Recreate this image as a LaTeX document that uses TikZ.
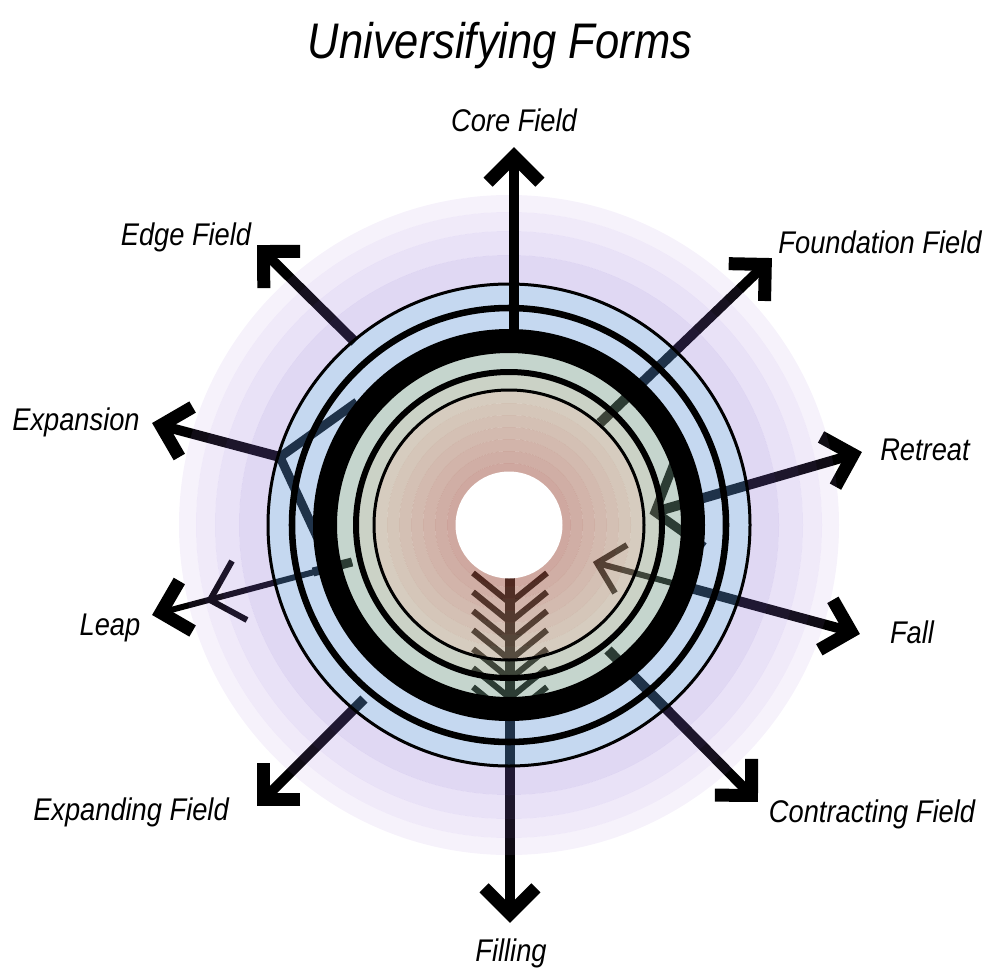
\documentclass[tikz,border=0pt]{standalone}
\usepackage{fontspec}
\newfontfamily\narrowsans[FakeStretch=0.87]{Liberation Sans}
\usetikzlibrary{arrows.meta}

% translucent zone tints (laid over the connectors)
\definecolor{lavA}{RGB}{165,125,215}
\definecolor{lavB}{RGB}{155,115,215}
\definecolor{lavC}{RGB}{145,110,215}
\definecolor{lavD}{RGB}{131,99,207}
\definecolor{skyE}{RGB}{89,144,212}
\definecolor{sageF}{RGB}{110,150,130}
\definecolor{sageG}{RGB}{139,155,129}
\definecolor{clayA}{RGB}{173,153,127}
\definecolor{clayB}{RGB}{171,141,115}
\definecolor{clayC}{RGB}{169,129,105}
\definecolor{clayD}{RGB}{167,117,95}
\definecolor{clayE}{RGB}{165,105,85}
\definecolor{clayF}{RGB}{161,93,75}
\definecolor{clayG}{RGB}{159,81,65}

\begin{document}
\begin{tikzpicture}[x=0.75pt,y=-0.75pt,
  arrowshaft/.style={line width=7.5pt, line cap=butt},
  thinshaft/.style={line width=4.5pt, line cap=butt},
  bigtip/.style={-{Straight Barb[length=19.4pt,width=38.8pt,line width=9.75pt]}},
  heavybarb/.style={line width=6.75pt, line join=miter, line cap=butt},
  finebarb/.style={line width=4.5pt, line join=miter, line cap=butt},
  zonefill/.style={even odd rule, fill opacity=#1},
  labeltext/.style={font=\narrowsans\itshape\fontsize{23.5}{28}\selectfont, inner sep=0pt, anchor=base},
  titletext/.style={font=\narrowsans\itshape\fontsize{37.5}{44}\selectfont, inner sep=0pt, anchor=base},
]
\useasboundingbox (0,0) rectangle (986,978);

% ---------- end points of the radiating connectors ----------
\coordinate (O) at (509,525);
\coordinate (coreS) at (514,332);   \coordinate (coreT) at (514,147);
\coordinate (edgeS) at (355,342);   \coordinate (edgeT) at (257,245);
\coordinate (foundS) at (600,423);  \coordinate (foundT) at (772,258);
\coordinate (retrS) at (655,512);   \coordinate (retrT) at (862,452);
\coordinate (fallS) at (597,563);   \coordinate (fallM) at (672,583);
\coordinate (fallT) at (860,634);
\coordinate (contrS) at (608,650);  \coordinate (contrT) at (758,802);
\coordinate (fillS) at (510,575);   \coordinate (fillT) at (510,923);
\coordinate (expdS) at (364,699);   \coordinate (expdT) at (257,806);
\coordinate (leapS) at (352,562);   \coordinate (leapM) at (313,572);
\coordinate (leapT) at (152,615);
\coordinate (expnS) at (280,457);   \coordinate (expnT) at (152,423);

% ---------- connectors (tinted afterwards by the zones) ----------
\draw[arrowshaft, bigtip] (edgeS) -- (edgeT);
\draw[arrowshaft, bigtip] (foundS) -- (foundT);
\draw[arrowshaft, bigtip] (retrS) -- (retrT);
\draw[heavybarb] (677,456) -- (retrS) -- (704,547);
\draw[thinshaft] (fallS) -- (fallM);
\draw[arrowshaft, bigtip] (fallM) -- (fallT);
\draw[finebarb] (627,545) -- (fallS) -- (615,593);
\draw[arrowshaft, bigtip] (contrS) -- (contrT);
\draw[arrowshaft, bigtip] (fillS) -- (fillT);
\foreach \k in {0,...,6}
  \draw[finebarb] (473,573+19*\k) -- (510,603+19*\k) -- (547,573+19*\k);
\draw[arrowshaft, bigtip] (expdS) -- (expdT);
\draw[heavybarb] (leapS) -- (leapM);
\draw[thinshaft, bigtip] (leapS) -- (leapT);
\draw[finebarb] (232,561) -- (210,600) -- (247,620);
\draw[arrowshaft, bigtip] (expnS) -- (expnT);
\draw[heavybarb] (357,402) -- (expnS) -- (320,543);

% ---------- concentric tinted zones ----------
\begin{scope}[shift={(O)}]
  \fill[lavA, zonefill=0.10] (0,0) circle[radius=330] (0,0) circle[radius=313];
  \fill[lavB, zonefill=0.15] (0,0) circle[radius=313] (0,0) circle[radius=294];
  \fill[lavC, zonefill=0.20] (0,0) circle[radius=294] (0,0) circle[radius=270];
  \fill[lavD, zonefill=0.25] (0,0) circle[radius=270] (0,0) circle[radius=241];
  \fill[skyE, zonefill=0.35] (0,0) circle[radius=241] (0,0) circle[radius=194];
  \fill[sageF, zonefill=0.40] (0,0) circle[radius=194] (0,0) circle[radius=153];
  \fill[sageG, zonefill=0.45] (0,0) circle[radius=153] (0,0) circle[radius=135];
  \fill[clayA, zonefill=0.50] (0,0) circle[radius=135] (0,0) circle[radius=122];
  \fill[clayB, zonefill=0.50] (0,0) circle[radius=122] (0,0) circle[radius=110];
  \fill[clayC, zonefill=0.50] (0,0) circle[radius=110] (0,0) circle[radius=98];
  \fill[clayD, zonefill=0.50] (0,0) circle[radius=98] (0,0) circle[radius=86];
  \fill[clayE, zonefill=0.50] (0,0) circle[radius=86] (0,0) circle[radius=74];
  \fill[clayF, zonefill=0.50] (0,0) circle[radius=74] (0,0) circle[radius=62];
  \fill[clayG, zonefill=0.50] (0,0) circle[radius=62] (0,0) circle[radius=53];
\end{scope}

% the upward connector stays fully black
\draw[arrowshaft, bigtip] (coreS) -- (coreT);

% ---------- black rings and the open centre ----------
\begin{scope}[shift={(O)}]
  \draw[line width=2.25pt] (0,0) circle[radius=241];
  \draw[line width=4.9pt] (0,0) circle[radius=217];
  \draw[line width=18pt] (0,0) circle[radius=184];
  \draw[line width=4.5pt] (0,0) circle[radius=153];
  \draw[line width=2.25pt] (0,0) circle[radius=135];
  \fill[white] (0,0) circle[radius=53.5];
\end{scope}

% ---------- labels ----------
\node[titletext] (title) at (500,58) {Universifying Forms};
\node[labeltext] (lcore) at (514,131) {Core Field};
\node[labeltext] (ledge) at (186,245) {Edge Field};
\node[labeltext] (lfound) at (880,253) {Foundation Field};
\node[labeltext] (lexpn) at (76,430) {Expansion};
\node[labeltext] (lretr) at (925,460) {Retreat};
\node[labeltext] (lleap) at (110,635) {Leap};
\node[labeltext] (lfall) at (912,643) {Fall};
\node[labeltext] (lexpd) at (131,820) {Expanding Field};
\node[labeltext] (lcontr) at (872,822) {Contracting Field};
\node[labeltext] (lfill) at (511,961) {Filling};
\end{tikzpicture}
\end{document}
